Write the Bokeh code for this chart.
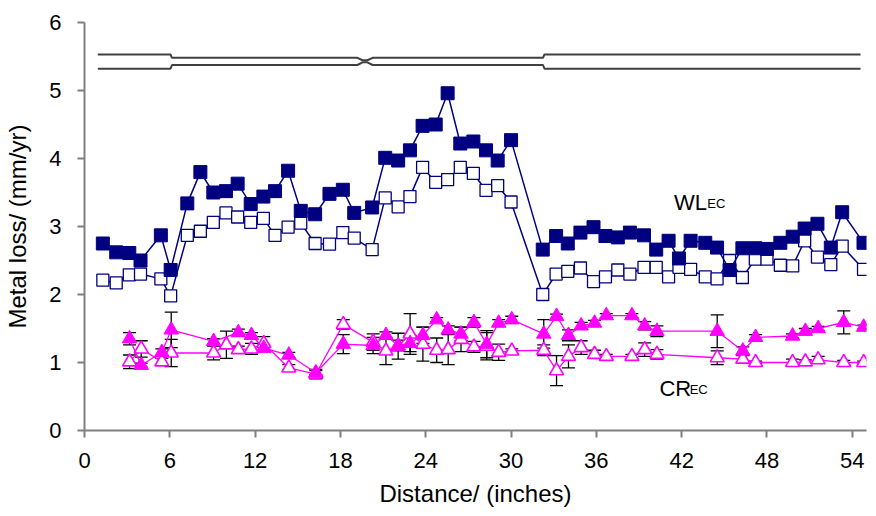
from bokeh.plotting import figure
from bokeh.models import ColumnDataSource, Whisker, TeeHead, FixedTicker, Range1d
from bokeh.core.properties import value
from bokeh.embed import file_html
from bokeh.resources import INLINE

# ---- data ----
wl_x = [1.29, 2.23, 3.15, 3.94, 5.37, 6.06, 7.23, 8.15, 9.06, 9.95, 10.77, 11.69, 12.58, 13.40,
        14.32, 15.21, 16.22, 17.23, 18.17, 18.97, 20.23, 21.15, 22.06, 22.89, 23.78, 24.70, 25.54,
        26.43, 27.35, 28.24, 29.06, 30.00, 32.23, 33.17, 33.99, 34.88, 35.80, 36.64, 37.51, 38.36,
        39.35, 40.21, 41.08, 41.81, 42.63, 43.66, 44.49, 45.37, 46.27, 47.18, 48.00, 48.94, 49.81,
        50.65, 51.55, 52.49, 53.29, 54.79]
wl_filled = [2.75, 2.62, 2.61, 2.50, 2.87, 2.36, 3.34, 3.80, 3.50, 3.52, 3.63, 3.33, 3.44, 3.52,
             3.82, 3.23, 3.18, 3.48, 3.54, 3.20, 3.28, 4.01, 3.97, 4.12, 4.48, 4.50, 4.96,
             4.22, 4.25, 4.12, 3.97, 4.27, 2.66, 2.86, 2.75, 2.91, 2.99, 2.86, 2.84, 2.91,
             2.87, 2.66, 2.79, 2.53, 2.79, 2.76, 2.69, 2.36, 2.68, 2.68, 2.67, 2.76, 2.85,
             2.97, 3.04, 2.69, 3.21, 2.76]
wl_open = [2.21, 2.17, 2.29, 2.30, 2.23, 1.98, 2.87, 2.93, 3.06, 3.20, 3.14, 3.06, 3.12, 2.87,
           2.99, 3.05, 2.75, 2.74, 2.91, 2.83, 2.66, 3.42, 3.29, 3.44, 3.87, 3.65, 3.69,
           3.87, 3.78, 3.53, 3.60, 3.36, 2.00, 2.30, 2.34, 2.39, 2.19, 2.26, 2.36, 2.30,
           2.40, 2.40, 2.26, 2.40, 2.37, 2.26, 2.23, 2.50, 2.25, 2.52, 2.52, 2.43, 2.42,
           2.79, 2.55, 2.44, 2.71, 2.37]

crf_x = [3.17, 3.99, 5.44, 6.10, 9.08, 10.82, 11.74, 12.61, 14.37, 16.27, 18.20, 20.30, 21.20,
         22.06, 22.90, 23.80, 24.77, 25.58, 26.48, 27.39, 28.29, 29.13, 30.05, 32.30, 33.20,
         34.04, 34.93, 35.87, 36.70, 38.50, 39.40, 40.26, 44.50, 46.30, 47.20, 49.80, 50.70,
         51.60, 53.40, 54.80]
crf_y = [1.35, 0.96, 1.15, 1.48, 1.31, 1.44, 1.40, 1.21, 1.11, 0.85, 1.27, 1.25, 1.40,
         1.25, 1.28, 1.40, 1.63, 1.48, 1.42, 1.59, 1.27, 1.58, 1.63, 1.42, 1.68,
         1.40, 1.54, 1.58, 1.69, 1.69, 1.54, 1.46, 1.46, 1.17, 1.37, 1.39, 1.46,
         1.50, 1.59, 1.52]
crf_err = [0.09, 0.03, 0.05, 0.26, 0.04, 0.05, 0.04, 0.05, 0.04, 0.03, 0.14, 0.12, 0.05,
           0.08, 0.12, 0.12, 0.03, 0.06, 0.10, 0.07, 0.20, 0.05, 0.05, 0.21, 0.03,
           0.08, 0.05, 0.04, 0.03, 0.03, 0.06, 0.08, 0.24, 0.06, 0.04, 0.03, 0.04,
           0.03, 0.17, 0.03]

cro_x = [3.17, 3.99, 5.44, 6.10, 9.08, 9.98, 10.82, 11.74, 12.61, 14.37, 16.27, 18.20, 20.30,
         21.20, 22.06, 22.90, 23.80, 24.77, 25.58, 26.48, 27.39, 28.29, 29.13, 30.05, 32.30,
         33.20, 34.04, 34.93, 35.87, 36.70, 38.50, 39.40, 40.26, 44.50, 46.30, 47.20, 49.80,
         50.70, 51.60, 53.40, 54.80]
cro_y = [1.01, 1.20, 1.01, 1.14, 1.14, 1.26, 1.19, 1.20, 1.28, 0.92, 0.83, 1.56, 1.30,
         1.17, 1.24, 1.42, 1.27, 1.18, 1.19, 1.34, 1.23, 1.24, 1.15, 1.17, 1.18,
         0.88, 1.09, 1.22, 1.12, 1.09, 1.09, 1.19, 1.12, 1.07, 1.05, 1.00, 1.00,
         1.01, 1.04, 1.00, 1.00]
cro_err = [0.10, 0.12, 0.05, 0.20, 0.10, 0.20, 0.05, 0.08, 0.10, 0.05, 0.07, 0.07, 0.12,
           0.20, 0.19, 0.30, 0.25, 0.18, 0.22, 0.18, 0.08, 0.20, 0.12, 0.03, 0.08,
           0.22, 0.17, 0.10, 0.06, 0.03, 0.03, 0.10, 0.07, 0.10, 0.05, 0.02, 0.05,
           0.03, 0.05, 0.03, 0.02]

# pipe outline sketch at top of chart
pipe_x = [0.94, 6.05, 6.15, 19.2, 19.55, 19.9, 20.26, 32.25, 32.35, 54.58]
pipe_top = [5.53, 5.53, 5.48, 5.48, 5.445, 5.445, 5.48, 5.48, 5.53, 5.53]
pipe_bottom = [5.32, 5.32, 5.375, 5.375, 5.415, 5.415, 5.375, 5.375, 5.32, 5.32]

x_ticks = [0, 6, 12, 18, 24, 30, 36, 42, 48, 54]
y_ticks = [0, 1, 2, 3, 4, 5, 6]

# label anchors (data units)
wl_label = (41.46, 3.36)
wl_sub = (43.8, 3.34)
cr_label = (40.44, 0.62)
cr_sub = (42.56, 0.605)

NAVY = "#000080"
MAG = "#FF00FF"
FONT = "Liberation Sans"

p = figure(width=870, height=512, output_backend="svg", toolbar_location=None,
           x_range=Range1d(0, 55), y_range=Range1d(0, 6),
           min_border_left=84, min_border_right=4, min_border_top=22, min_border_bottom=82)
p.outline_line_color = None
p.xgrid.visible = False
p.ygrid.visible = False

# pipe
p.line(pipe_x, pipe_top, line_color="#404040", line_width=2)
p.line(pipe_x, pipe_bottom, line_color="#404040", line_width=2)

# CR error bars
def add_err(xs, ys, es):
    src = ColumnDataSource(dict(x=xs, lo=[y - e for y, e in zip(ys, es)],
                                hi=[y + e for y, e in zip(ys, es)]))
    w = Whisker(source=src, base="x", upper="hi", lower="lo", dimension="height",
                line_color="black", line_width=1.3,
                upper_head=TeeHead(size=13, line_color="black", line_width=1.3),
                lower_head=TeeHead(size=13, line_color="black", line_width=1.3))
    p.add_layout(w)

add_err(crf_x, crf_y, crf_err)
add_err(cro_x, cro_y, cro_err)

# WL series
p.line(wl_x, wl_open, line_color=NAVY, line_width=1.5)
p.scatter(wl_x, wl_open, marker="square", size=12, fill_color="white", line_color=NAVY, line_width=1.3)
p.line(wl_x, wl_filled, line_color=NAVY, line_width=1.5)
p.scatter(wl_x, wl_filled, marker="square", size=13, fill_color=NAVY, line_color=NAVY)

# CR series
p.line(cro_x, cro_y, line_color=MAG, line_width=1.3)
p.scatter(cro_x, cro_y, marker="triangle", size=14, fill_color="white", line_color=MAG, line_width=1.6)
p.line(crf_x, crf_y, line_color=MAG, line_width=1.3)
p.scatter(crf_x, crf_y, marker="triangle", size=14.5, fill_color=MAG, line_color=MAG)

# labels
for (lx, ly), (sx, sy), main in ((wl_label, wl_sub, "WL"), (cr_label, cr_sub, "CR")):
    p.text(x=[lx], y=[ly], text=[main], text_font=value(FONT),
           text_font_size="22px", text_baseline="alphabetic", text_color="black")
    p.text(x=[sx], y=[sy], text=["EC"], text_font=value(FONT),
           text_font_size="13px", text_baseline="alphabetic", text_color="black")

# axes
for ax in (p.xaxis[0], p.yaxis[0]):
    ax.axis_line_color = "#808080"
    ax.axis_line_width = 2
    ax.major_tick_line_color = "#808080"
    ax.major_tick_line_width = 2
    ax.major_tick_in = 0
    ax.major_tick_out = 7
    ax.minor_tick_line_color = None
    ax.major_label_text_font = FONT
    ax.major_label_text_font_size = "22px"
    ax.major_label_text_color = "black"
    ax.axis_label_text_font = FONT
    ax.axis_label_text_font_size = "24px"
    ax.axis_label_text_font_style = "normal"
    ax.axis_label_text_color = "black"

p.xaxis.ticker = FixedTicker(ticks=x_ticks)
p.yaxis.ticker = FixedTicker(ticks=y_ticks)
p.xaxis.axis_label = "Distance/ (inches)"
p.yaxis.axis_label = "Metal loss/ (mm/yr)"
p.xaxis.major_label_standoff = 15
p.yaxis.major_label_standoff = 16
p.xaxis.axis_label_standoff = 9
p.yaxis.axis_label_standoff = 15

open("out.html", "w").write(file_html(p, INLINE))
